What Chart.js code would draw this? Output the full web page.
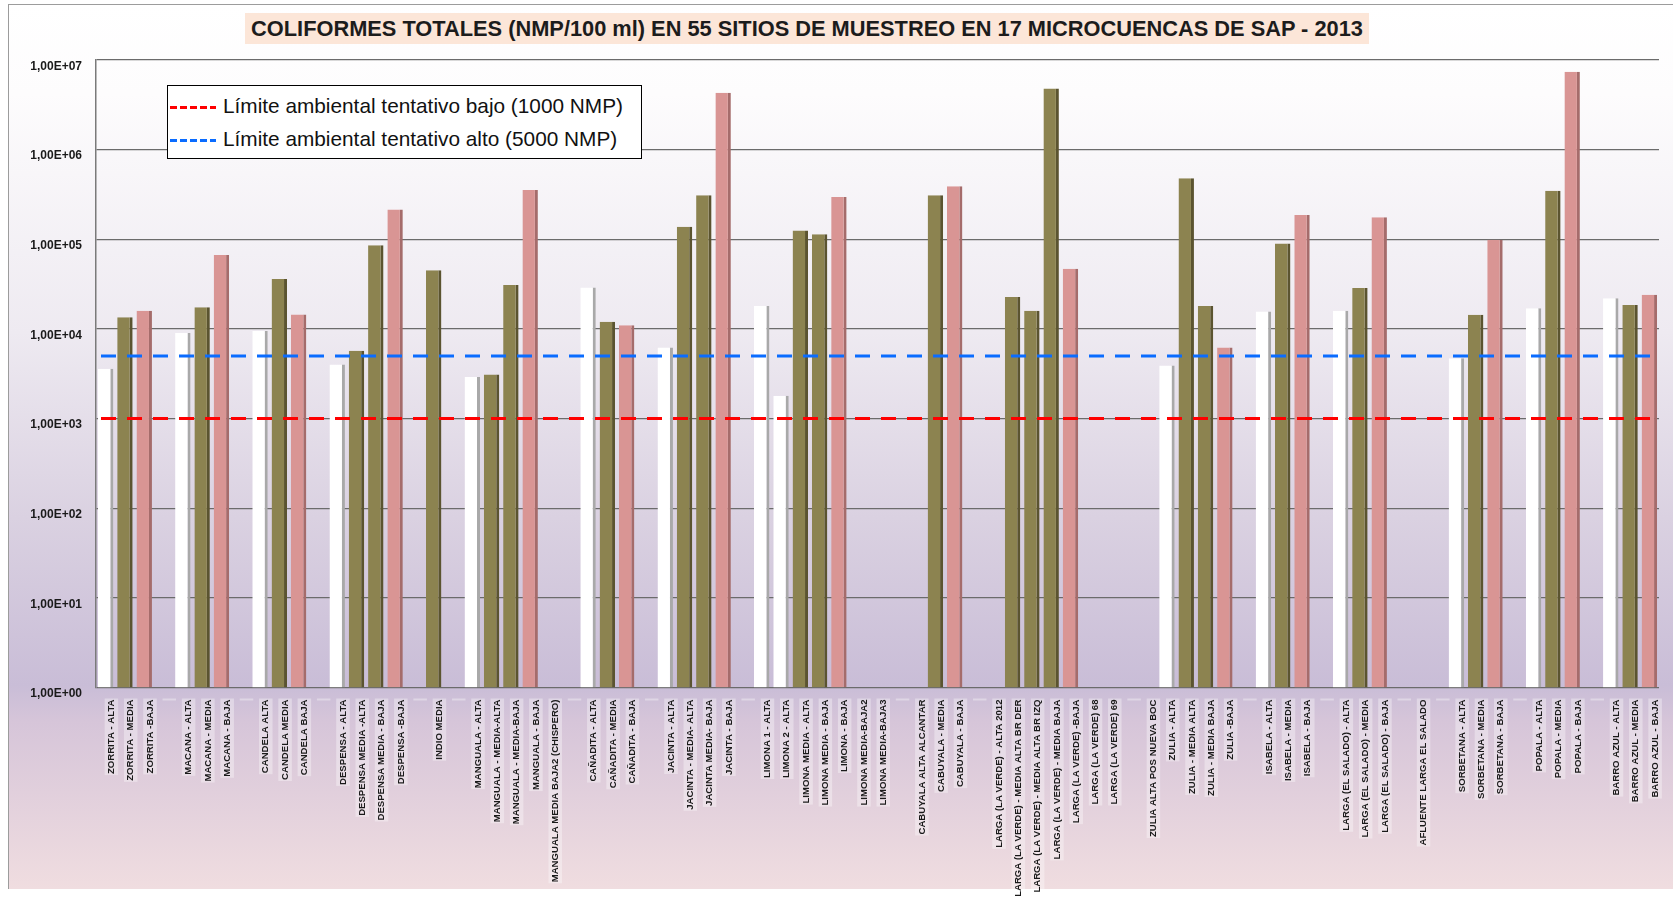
<!DOCTYPE html>
<html lang="es">
<head>
<meta charset="utf-8">
<title>Coliformes totales 2013</title>
<script src="https://cdn.jsdelivr.net/npm/chart.js@4.4.1/dist/chart.umd.min.js"></script>
<style>
  html, body { margin: 0; padding: 0; background: #fff; }
  body { width: 1673px; height: 899px; position: relative; overflow: hidden; font-family: 'Liberation Sans', Arial, sans-serif; }
  #frame {
    position: absolute; left: 8px; top: 4px; width: 1665px; height: 884px;
    border-top: 1px solid #9c9c9c; border-left: 1px solid #9c9c9c;
    background: linear-gradient(180deg, #ffffff 0%, #fdfcfd 10%, #eeeaf1 37%, #dad1e1 58%, #c9bdd7 77%, #d6c5d9 81%, #f0dde0 100%);
  }
  #title {
    position: absolute; left: 245px; top: 13px; width: 1124px; height: 31px;
    background: #fce6d8; color: #1c1c1c; font-weight: bold; font-size: 21.8px;
    line-height: 31px; text-align: center; white-space: nowrap;
  }
  #chartBox { position: absolute; left: 0; top: 0; width: 1673px; height: 899px; }
  #legendBox {
    position: absolute; left: 167px; top: 85px; width: 473px; height: 69px;
    background: #fff; border: 1.5px solid #000; padding-top: 3px;
  }
  .row { height: 33px; line-height: 33px; font-size: 20.8px; color: #111; white-space: nowrap; }
  .swatch { display: inline-block; width: 46px; height: 3px; margin: 0 7px 0 2px; vertical-align: middle; }
</style>
</head>
<body>
<div id="frame"></div>
<div id="title">COLIFORMES TOTALES (NMP/100 ml) EN 55 SITIOS DE MUESTREO EN 17 MICROCUENCAS DE SAP - 2013</div>
<div id="chartBox"><canvas id="coliChart"></canvas></div>
<div id="legendBox"></div>
<script>
// Sitios de muestreo ('' = separacion entre microcuencas)
const categories = [
    'ZORRITA - ALTA', 'ZORRITA - MEDIA', 'ZORRITA -BAJA', '',
    'MACANA - ALTA', 'MACANA - MEDIA', 'MACANA - BAJA', '',
    'CANDELA ALTA', 'CANDELA MEDIA', 'CANDELA BAJA', '',
    'DESPENSA - ALTA', 'DESPENSA MEDIA -ALTA', 'DESPENSA MEDIA - BAJA', 'DESPENSA -BAJA', '',
    'INDIO MEDIA', '',
    'MANGUALA - ALTA', 'MANGUALA - MEDIA-ALTA', 'MANGUALA - MEDIA-BAJA', 'MANGUALA - BAJA', 'MANGUALA MEDIA BAJA2 (CHISPERO)', '',
    'CAÑADITA - ALTA', 'CAÑADITA - MEDIA', 'CAÑADITA - BAJA', '',
    'JACINTA - ALTA', 'JACINTA - MEDIA- ALTA', 'JACINTA MEDIA- BAJA', 'JACINTA - BAJA', '',
    'LIMONA 1 - ALTA', 'LIMONA 2 - ALTA', 'LIMONA MEDIA - ALTA', 'LIMONA MEDIA - BAJA', 'LIMONA - BAJA', 'LIMONA MEDIA-BAJA2', 'LIMONA MEDIA-BAJA3', '',
    'CABUYALA ALTA ALCANTAR', 'CABUYALA - MEDIA', 'CABUYALA - BAJA', '',
    'LARGA (LA VERDE) - ALTA 2012', 'LARGA (LA VERDE) - MEDIA ALTA BR DER', 'LARGA (LA VERDE) - MEDIA ALTA BR IZQ', 'LARGA (LA VERDE) - MEDIA BAJA', 'LARGA (LA VERDE) -BAJA', 'LARGA (LA VERDE) 68', 'LARGA (LA VERDE) 69', '',
    'ZULIA ALTA POS NUEVA BOC', 'ZULIA - ALTA', 'ZULIA - MEDIA ALTA', 'ZULIA - MEDIA BAJA', 'ZULIA -BAJA', '',
    'ISABELA - ALTA', 'ISABELA - MEDIA', 'ISABELA - BAJA', '',
    'LARGA (EL SALADO) - ALTA', 'LARGA (EL SALADO) - MEDIA', 'LARGA (EL SALADO) - BAJA', '',
    'AFLUENTE LARGA EL SALADO', '',
    'SORBETANA - ALTA', 'SORBETANA - MEDIA', 'SORBETANA - BAJA', '',
    'POPALA - ALTA', 'POPALA - MEDIA', 'POPALA - BAJA', '',
    'BARRO AZUL - ALTA', 'BARRO AZUL - MEDIA', 'BARRO AZUL - BAJA'
];

// Coliformes totales (NMP/100 ml), null = sin dato
const coliformes = [
    3600, 13500, 16000, null,
    9000, 17500, 67000, null,
    9500, 36000, 14500, null,
    4000, 5700, 86000, 215000, null,
    45000, null,
    2900, 3100, 31000, 355000, null, null,
    29000, 12000, 11000, null,
    6200, 138000, 310000, 4300000, null,
    18000, 1800, 125000, 114000, 296000, null, null, null,
    null, 310000, 390000, null,
    null, 22700, 16000, 4800000, 47000, null, null, null,
    null, 3900, 480000, 18000, 6200, null,
    15600, 90000, 187000, null,
    16000, 28700, 176000, null,
    null, null,
    4700, 14400, 99000, null,
    17000, 347000, 7400000, null,
    22000, 18500, 24000
];

const yTicks = [1, 10, 100, 1000, 10000, 100000, 1000000, 10000000];

const limits = [1000, 5000];
const limitLabels = [
    'Límite ambiental tentativo bajo (1000 NMP)',
    'Límite ambiental tentativo alto (5000 NMP)'
];

const LIMIT_COLORS = ['#ff0000', '#0a6cff'];

// zona del sitio -> colores de cara y lateral
function zoneOf(label) {
    if (/MEDIA/.test(label)) return 'media';
    if (/BAJA/.test(label)) return 'baja';
    return 'alta';
}
const faceColor = { alta: '#ffffff', media: '#8c8350', baja: '#d99594' };
const sideColor = { alta: '#a9a9a9', media: '#5b5430', baja: '#a56c6b' };

function sciLabel(v) {
    const exp = Math.round(Math.log10(v));
    return '1,00E+' + String(exp).padStart(2, '0');
}

const limitLines = {
    id: 'limitLines',
    afterDatasetsDraw(chart) {
        const { ctx, chartArea, scales } = chart;
        ctx.save();
        ctx.lineWidth = 3;
        ctx.setLineDash([15, 11]);
        limits.forEach((v, i) => {
            const y = scales.y.getPixelForValue(v);
            ctx.strokeStyle = LIMIT_COLORS[i];
            ctx.beginPath();
            ctx.moveTo(chartArea.left + 5, y);
            ctx.lineTo(chartArea.right, y);
            ctx.stroke();
        });
        ctx.restore();
    }
};

function buildLegend() {
    const box = document.getElementById('legendBox');
    box.innerHTML = limitLabels.map((txt, i) => `
        <div class="row"><span class="swatch" style="background: repeating-linear-gradient(90deg, ${LIMIT_COLORS[i]} 0 7px, transparent 7px 10px);"></span>${txt}</div>
    `).join('');
}

function initChart() {
    const ctx = document.getElementById('coliChart').getContext('2d');
    new Chart(ctx, {
        type: 'bar',
        data: {
            labels: categories,
            datasets: [{
                label: 'Coliformes totales',
                data: coliformes,
                backgroundColor: categories.map(c => faceColor[zoneOf(c)]),
                borderColor: categories.map(c => sideColor[zoneOf(c)]),
                borderWidth: { top: 0, right: 3, bottom: 0, left: 0 },
                borderSkipped: false,
                barPercentage: 0.8,
                categoryPercentage: 1.0
            }]
        },
        options: {
            responsive: true,
            maintainAspectRatio: false,
            animation: false,
            layout: { padding: { top: 60, right: 14, bottom: 0, left: 0 } },
            plugins: {
                legend: { display: false },
                tooltip: { enabled: false }
            },
            scales: {
                x: {
                    grid: { display: false },
                    border: { display: false },
                    ticks: {
                        autoSkip: false,
                        maxRotation: 90,
                        minRotation: 90,
                        padding: 4,
                        color: '#1a1a1a',
                        font: { family: "'Liberation Sans', Arial, sans-serif", weight: 'bold', size: 9.6 },
                        showLabelBackdrop: true,
                        backdropColor: 'rgba(255,255,255,0.35)',
                        backdropPadding: 1
                    },
                    afterFit(scale) { scale.height = 211.5; }
                },
                y: {
                    type: 'logarithmic',
                    min: 1,
                    max: 10000000,
                    afterBuildTicks(scale) {
                        scale.ticks = yTicks.map(v => ({ value: v }));
                    },
                    afterFit(scale) { scale.width = 96; },
                    grid: { color: '#6b6b6b', lineWidth: 1.2, drawTicks: false },
                    border: { display: true, color: '#7a7a7a', width: 1.5 },
                    ticks: {
                        padding: 14,
                        labelOffset: 6.5,
                        color: '#1a1a1a',
                        font: { family: "'Liberation Sans', Arial, sans-serif", weight: 'bold', size: 12 },
                        callback: (v) => sciLabel(v)
                    }
                }
            }
        },
        plugins: [limitLines]
    });
}

window.addEventListener('load', () => {
    buildLegend();
    initChart();
});
</script>
</body>
</html>
